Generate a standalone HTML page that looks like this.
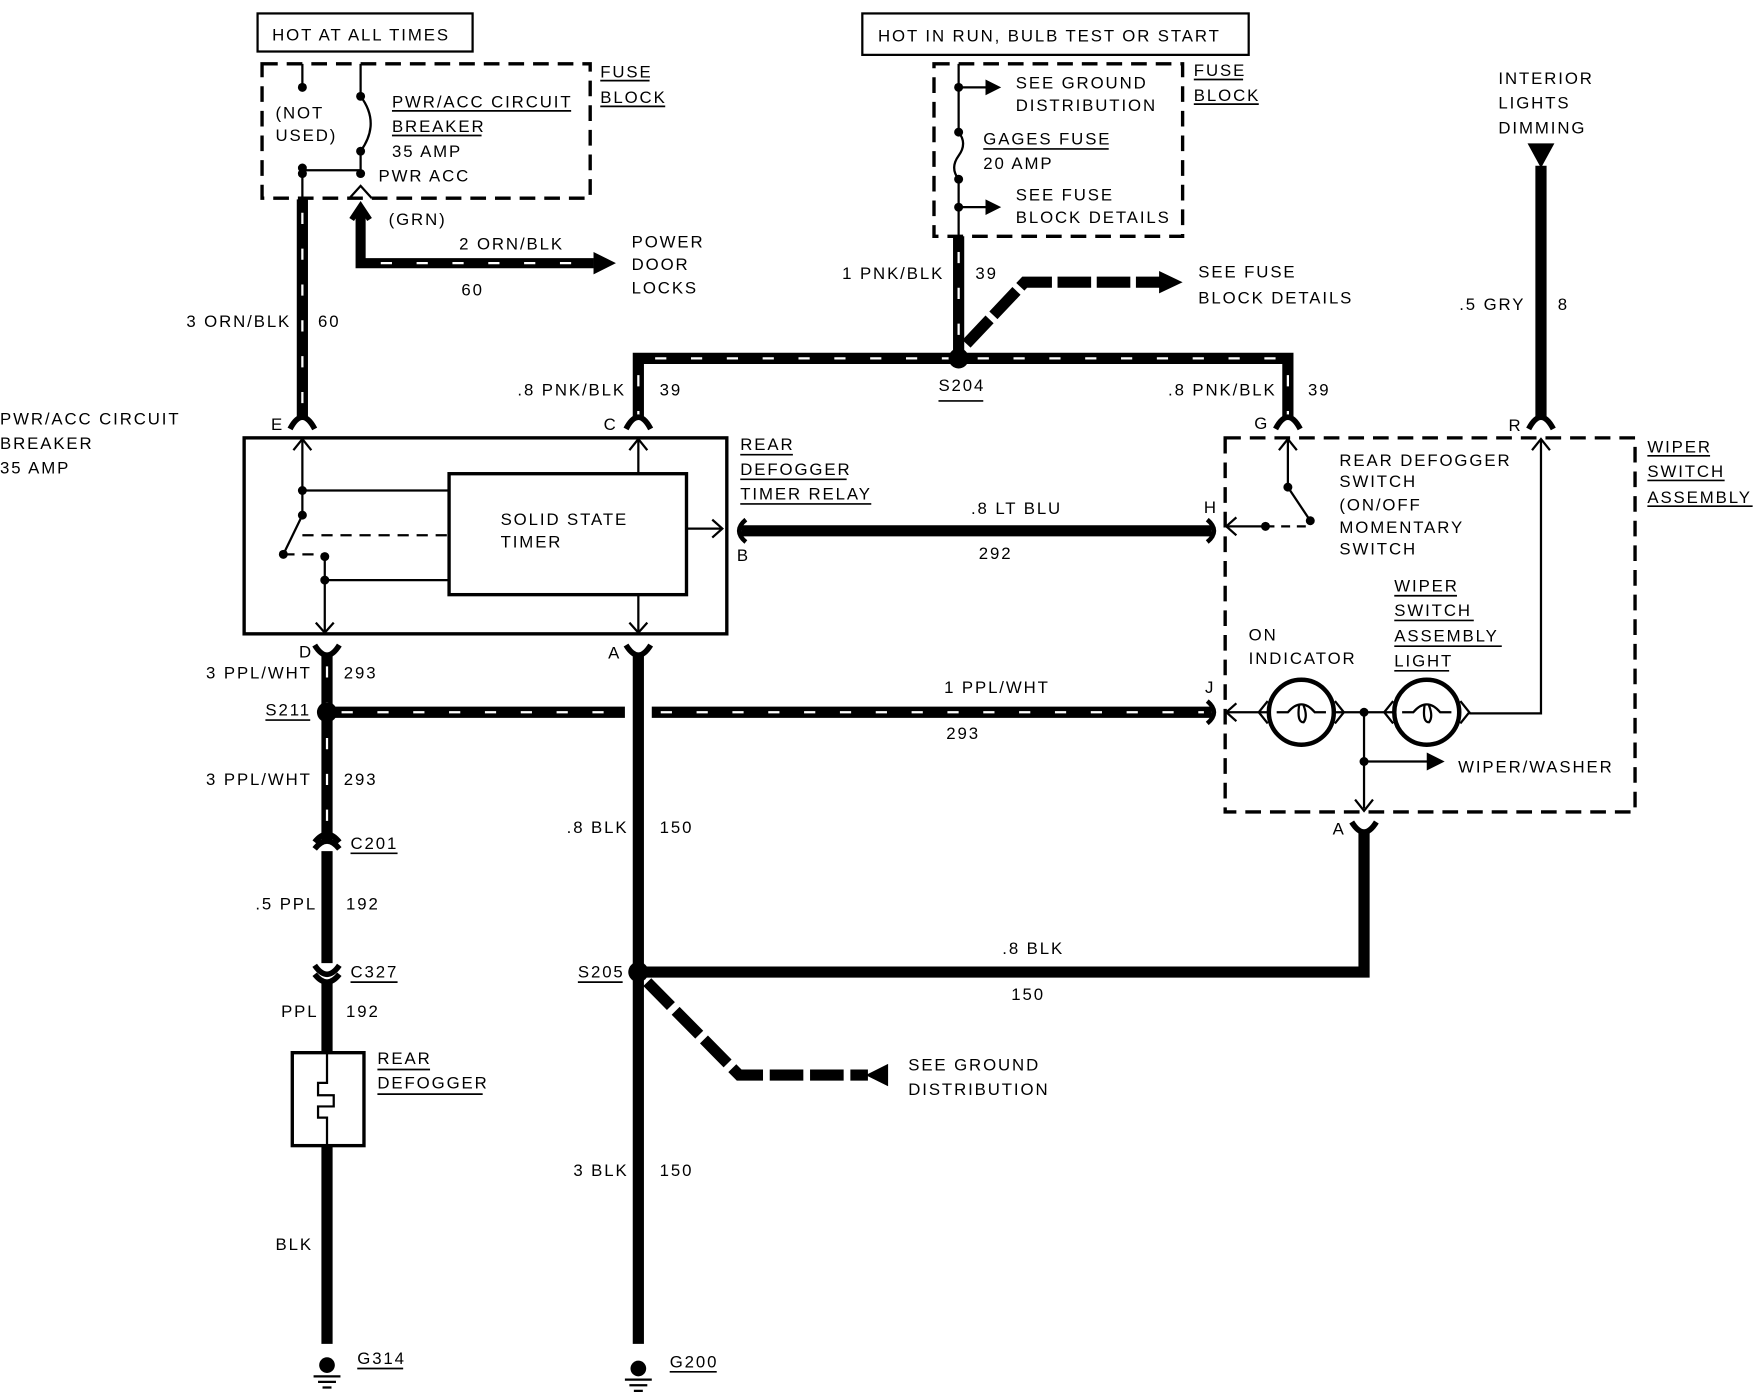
<!DOCTYPE html>
<html><head><meta charset="utf-8"><style>
html,body{margin:0;padding:0;background:#fff;}
svg{display:block;}
text{font-family:"Liberation Sans",sans-serif;font-size:15px;fill:#000;letter-spacing:1.7px;}
</style></head><body>
<svg width="1756" height="1392" viewBox="0 0 1568 1243" preserveAspectRatio="none" xmlns="http://www.w3.org/2000/svg">
<g fill="none" stroke="#000">
<rect x="230" y="12" width="192" height="34" stroke-width="2"/>
<rect x="234" y="57" width="293" height="120" stroke-width="3" stroke-dasharray="14 8"/>
<path d="M270 57 V78 M270 150 V178 M270 152 H322 M322 57 V86 M322 135 V158 M312 177 L322 166 L332 177" stroke-width="2"/>
<path d="M322 86 Q340 110 322 135" stroke-width="2"/>
<path d="M270 178 V372" stroke-width="10"/>
<path d="M270 190 V372" stroke="#fff" stroke-width="2" stroke-dasharray="10 22"/>
<path d="M259 383 Q270 362 281 383" stroke-width="5"/>
<path d="M322 188 V235 H530" stroke-width="9"/>
<path d="M340 235 H530" stroke="#fff" stroke-width="2" stroke-dasharray="10 22"/>
<path d="M314 196 L322 184 L330 196" stroke-width="5"/>
<rect x="218" y="391" width="431" height="175" stroke-width="3"/>
<rect x="401" y="423" width="212" height="108" stroke-width="3"/>
<path d="M270 393 V460 M270 438 H401 M270 460 L253 495 M290 497 V564 M290 518 H401 M570 393 V423 M570 531 V564 M613 472 H644" stroke-width="2"/>
<path d="M270 478 H401 M253 495 H290" stroke-width="2" stroke-dasharray="10 7"/>
<path d="M262 402 L270 392 L278 402 M562 402 L570 392 L578 402 M282 556 L290 565 L298 556 M562 556 L570 565 L578 556 M636 464 L645 472 L636 480" stroke-width="2"/>
<path d="M662 474 H1082" stroke-width="10"/>
<path d="M666 464 Q654 474 666 484 M1078 464 Q1090 474 1078 484" stroke-width="4"/>
<rect x="770" y="12" width="345" height="37" stroke-width="2"/>
<rect x="834" y="57" width="222" height="154" stroke-width="3" stroke-dasharray="14 8"/>
<path d="M856 57 V118 M856 160 V211 M856 78 H885 M856 185 H885" stroke-width="2"/>
<path d="M856 118 Q864 128 856 139 Q848 150 856 160" stroke-width="2"/>
<path d="M856 211 V320" stroke-width="10"/>
<path d="M856 225 V315" stroke="#fff" stroke-width="2" stroke-dasharray="10 22"/>
<path d="M863 307 L915 252 H1040" stroke-width="10" stroke-dasharray="30 5"/>
<path d="M570 375 V320 H1150 V375" stroke-width="10"/>
<path d="M570 335 V375 M585 320 H1140 M1150 335 V375" stroke="#fff" stroke-width="2" stroke-dasharray="10 22"/>
<path d="M559 383 Q570 362 581 383 M1139 383 Q1150 362 1161 383" stroke-width="5"/>
<path d="M1376 148 V372" stroke-width="10"/>
<path d="M1365 383 Q1376 362 1387 383" stroke-width="5"/>
<rect x="1094" y="391" width="366" height="334" stroke-width="3" stroke-dasharray="14 8"/>
<path d="M1150 393 V435 L1170 465 M1376 393 V637 H1312 M1130 470 H1096 M1094 636 H1132 M1192 636 H1244 M1218 636 V722 M1218 680 H1280" stroke-width="2"/>
<path d="M1130 470 H1170" stroke-width="2" stroke-dasharray="8 6"/>
<path d="M1142 402 L1150 392 L1158 402 M1368 402 L1376 392 L1384 402 M1104 462 L1095 470 L1104 478 M1104 628 L1095 636 L1104 644 M1210 714 L1218 724 L1226 714" stroke-width="2"/>
<circle cx="1162" cy="636" r="29" stroke-width="4"/>
<circle cx="1274" cy="636" r="29" stroke-width="4"/>
<path d="M1132 626 L1124 636 L1132 646 M1192 626 L1200 636 L1192 646 M1244 626 L1236 636 L1244 646 M1304 626 L1312 636 L1304 646" stroke-width="2"/>
<path d="M1140 636 H1150 Q1162 622 1174 636 H1184 M1160 630 Q1158 645 1164 645 Q1168 640 1164 630 M1252 636 H1262 Q1274 622 1286 636 H1296 M1272 630 Q1270 645 1276 645 Q1280 640 1276 630" stroke-width="2"/>
<path d="M292 636 H558 M582 636 H1082" stroke-width="10"/>
<path d="M305 636 H555 M590 636 H1075" stroke="#fff" stroke-width="2" stroke-dasharray="10 22"/>
<path d="M1078 626 Q1090 636 1078 646" stroke-width="4"/>
<path d="M1218 742 V868 H570" stroke-width="10"/>
<path d="M1207 734 Q1218 752 1229 734" stroke-width="5"/>
<path d="M292 585 V750 M292 760 V860 M292 875 V1200" stroke-width="10"/>
<path d="M292 595 V745" stroke="#fff" stroke-width="2" stroke-dasharray="10 22"/>
<path d="M281 576 Q292 594 303 576 M281 752 Q292 738 303 752 M281 758 Q292 744 303 758 M281 862 Q292 878 303 862 M281 870 Q292 884 303 870" stroke-width="5"/>
<rect x="261" y="940" width="64" height="83" fill="#fff" stroke-width="3"/>
<path d="M292 940 V967 H284 V978 H298 V988 H284 V998 H292 V1023" stroke-width="2"/>
<path d="M570 585 V1200" stroke-width="10"/>
<path d="M559 576 Q570 594 581 576" stroke-width="5"/>
<path d="M578 877 L660 960 H775" stroke-width="10" stroke-dasharray="30 6"/>
<path d="M280 1229 H304 M284 1234 H300 M288 1239 H296 M558 1232 H582 M562 1237 H578 M566 1242 H574" stroke-width="2"/>
<path d="M536 72 H580 M536 95 H594 M350 99 H510 M350 121 H430 M661 406 H708 M661 428 H756 M661 450 H778 M1066 71 H1110 M1066 93 H1124 M878 133 H990 M838 358 H878 M1471 407 H1527 M1471 429 H1540 M1471 452 H1565 M1245 532 H1301 M1245 554 H1316 M1245 577 H1341 M1245 599 H1294 M237 643 H277 M313 762 H355 M313 877 H355 M337 955 H384 M337 977 H431 M516 877 H556 M319 1222 H360 M598 1225 H640" stroke-width="1.5"/>
</g>
<g>
<circle cx="270" cy="78" r="4"/><circle cx="322" cy="86" r="4"/><circle cx="322" cy="135" r="4"/><circle cx="270" cy="150" r="4"/><circle cx="270" cy="155" r="4"/><circle cx="322" cy="155" r="4"/>
<path d="M530 225 L550 235 L530 245 z"/>
<circle cx="270" cy="438" r="4"/><circle cx="270" cy="460" r="4"/><circle cx="253" cy="495" r="4"/><circle cx="290" cy="497" r="4"/><circle cx="290" cy="518" r="4"/>
<circle cx="856" cy="78" r="4"/><circle cx="856" cy="118" r="4"/><circle cx="856" cy="160" r="4"/><circle cx="856" cy="185" r="4"/>
<path d="M880 71 L894 78 L880 85 z M880 178 L894 185 L880 192 z"/>
<path d="M1035 242 L1056 252 L1035 262 z"/>
<circle cx="856" cy="320" r="9"/>
<path d="M1364 128 H1388 L1376 150 z"/>
<circle cx="1150" cy="435" r="4"/><circle cx="1170" cy="465" r="4"/><circle cx="1130" cy="470" r="4"/>
<circle cx="1218" cy="636" r="4"/><circle cx="1218" cy="680" r="4"/>
<path d="M1274 672 L1290 680 L1274 688 z"/>
<circle cx="292" cy="636" r="9"/>
<circle cx="570" cy="868" r="9"/>
<path d="M793 950 L773 960 L793 970 z"/>
<circle cx="292" cy="1219" r="7"/><circle cx="570" cy="1222" r="7"/>
</g>
<g>
<text x="243" y="36">HOT AT ALL TIMES</text>
<text x="536" y="69">FUSE</text><text x="536" y="92">BLOCK</text>
<text x="246" y="106">(NOT</text><text x="246" y="126">USED)</text>
<text x="350" y="96">PWR/ACC CIRCUIT</text><text x="350" y="118">BREAKER</text><text x="350" y="140">35 AMP</text>
<text x="338" y="162">PWR ACC</text><text x="347" y="201">(GRN)</text>
<text x="410" y="223">2 ORN/BLK</text><text x="412" y="264">60</text>
<text x="564" y="221">POWER</text><text x="564" y="241">DOOR</text><text x="564" y="262">LOCKS</text>
<text x="260" y="292" text-anchor="end">3 ORN/BLK</text><text x="284" y="292">60</text>
<text x="0" y="379">PWR/ACC CIRCUIT</text><text x="0" y="401">BREAKER</text><text x="0" y="423">35 AMP</text>
<text x="242" y="384">E</text><text x="539" y="384">C</text><text x="658" y="501">B</text>
<text x="447" y="469">SOLID STATE</text><text x="447" y="489">TIMER</text>
<text x="661" y="402">REAR</text><text x="661" y="424">DEFOGGER</text><text x="661" y="446">TIMER RELAY</text>
<text x="867" y="459">.8 LT BLU</text><text x="874" y="499">292</text><text x="1075" y="458">H</text>
<text x="784" y="37">HOT IN RUN, BULB TEST OR START</text>
<text x="1066" y="68">FUSE</text><text x="1066" y="90">BLOCK</text>
<text x="907" y="79">SEE GROUND</text><text x="907" y="99">DISTRIBUTION</text>
<text x="878" y="129">GAGES FUSE</text><text x="878" y="151">20 AMP</text>
<text x="907" y="179">SEE FUSE</text><text x="907" y="199">BLOCK DETAILS</text>
<text x="752" y="249">1 PNK/BLK</text><text x="871" y="249">39</text>
<text x="1070" y="248">SEE FUSE</text><text x="1070" y="271">BLOCK DETAILS</text>
<text x="462" y="353">.8 PNK/BLK</text><text x="589" y="353">39</text>
<text x="838" y="349">S204</text>
<text x="1043" y="353">.8 PNK/BLK</text><text x="1168" y="353">39</text><text x="1120" y="383">G</text>
<text x="1338" y="75">INTERIOR</text><text x="1338" y="97">LIGHTS</text><text x="1338" y="119">DIMMING</text>
<text x="1303" y="277">.5 GRY</text><text x="1391" y="277">8</text><text x="1347" y="385">R</text>
<text x="1471" y="404">WIPER</text><text x="1471" y="426">SWITCH</text><text x="1471" y="449">ASSEMBLY</text>
<text x="1196" y="416">REAR DEFOGGER</text><text x="1196" y="435">SWITCH</text><text x="1196" y="456">(ON/OFF</text><text x="1196" y="476">MOMENTARY</text><text x="1196" y="495">SWITCH</text>
<text x="1245" y="528">WIPER</text><text x="1245" y="550">SWITCH</text><text x="1245" y="573">ASSEMBLY</text><text x="1245" y="595">LIGHT</text>
<text x="1115" y="572">ON</text><text x="1115" y="593">INDICATOR</text>
<text x="1302" y="690">WIPER/WASHER</text>
<text x="843" y="619">1 PPL/WHT</text><text x="845" y="660">293</text><text x="1076" y="619">J</text>
<text x="1190" y="745">A</text>
<text x="895" y="852">.8 BLK</text><text x="903" y="893">150</text>
<text x="267" y="587">D</text><text x="543" y="588">A</text>
<text x="184" y="606">3 PPL/WHT</text><text x="307" y="606">293</text>
<text x="237" y="639">S211</text>
<text x="184" y="701">3 PPL/WHT</text><text x="307" y="701">293</text>
<text x="313" y="758">C201</text>
<text x="228" y="812">.5 PPL</text><text x="309" y="812">192</text>
<text x="313" y="873">C327</text>
<text x="251" y="908">PPL</text><text x="309" y="908">192</text>
<text x="337" y="950">REAR</text><text x="337" y="972">DEFOGGER</text>
<text x="246" y="1116">BLK</text><text x="319" y="1218">G314</text>
<text x="506" y="744">.8 BLK</text><text x="589" y="744">150</text>
<text x="516" y="873">S205</text>
<text x="811" y="956">SEE GROUND</text><text x="811" y="978">DISTRIBUTION</text>
<text x="512" y="1050">3 BLK</text><text x="589" y="1050">150</text>
<text x="598" y="1221">G200</text>
</g>
</svg>
</body></html>
